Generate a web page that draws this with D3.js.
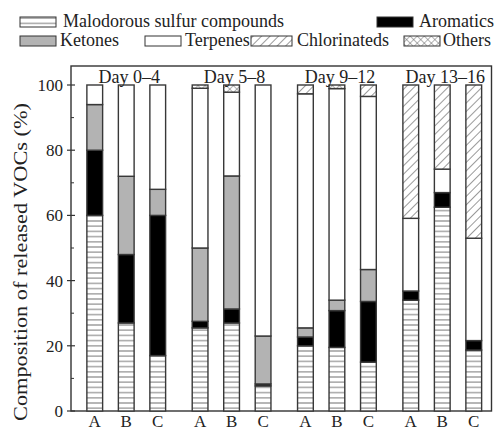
<!DOCTYPE html>
<html>
<head>
<meta charset="utf-8">
<script src="https://cdn.jsdelivr.net/npm/d3@7"></script>
<style>
  body { margin: 0; background: #fff; }
  svg { display: block; }
</style>
</head>
<body>
<svg id="chart"></svg>
<script>
// bars: groups (days) x samples (A, B, C)
var days = ["Day 0\u20134", "Day 5\u20138", "Day 9\u201312", "Day 13\u201316"];
var samples = ["A", "B", "C"];
var yTicks = [0, 20, 40, 60, 80, 100];

// composition (%) per bar, in order A,B,C of each day
var sulfur       = [60, 27, 17, 25.5, 27, 7.7, 20, 19.5, 15, 34, 62.5, 18.7];
var aromatics    = [20, 21, 43, 2, 4.3, 0.6, 2.7, 11.3, 18.6, 2.8, 4.5, 2.9];
var ketones      = [14, 24, 8, 22.5, 40.8, 14.7, 2.8, 3.2, 9.8, 0, 0, 0];
var terpenes     = [6, 28, 32, 49, 25.7, 77, 71.8, 64.9, 53.1, 22.3, 7.2, 31.4];
var chlorinateds = [0, 0, 0, 0, 0, 0, 2.7, 0, 3.5, 40.9, 25.8, 47];
var others       = [0, 0, 0, 1, 2.2, 0, 0, 1.1, 0, 0, 0, 0];

var width = 498, height = 431;
var margin = {top: 66, right: 6, bottom: 20, left: 71};
var serif = "'Liberation Serif'";

var svg = d3.select("#chart")
  .attr("width", width).attr("height", height);

// patterns
var defs = svg.append("defs");
var p1 = defs.append("pattern").attr("id", "hlines").attr("patternUnits", "userSpaceOnUse")
  .attr("width", 8).attr("height", 5.2);
p1.append("rect").attr("width", 8).attr("height", 5.2).attr("fill", "#fff");
p1.append("line").attr("x1", 0).attr("x2", 8).attr("y1", 2.6).attr("y2", 2.6)
  .attr("stroke", "#777").attr("stroke-width", 1);

var p2 = defs.append("pattern").attr("id", "diag").attr("patternUnits", "userSpaceOnUse")
  .attr("width", 6).attr("height", 6).attr("patternTransform", "rotate(45)");
p2.append("rect").attr("width", 6).attr("height", 6).attr("fill", "#fff");
p2.append("line").attr("x1", 0).attr("x2", 0).attr("y1", 0).attr("y2", 6)
  .attr("stroke", "#555").attr("stroke-width", 1.2);

var p3 = defs.append("pattern").attr("id", "cross").attr("patternUnits", "userSpaceOnUse")
  .attr("width", 5).attr("height", 5).attr("patternTransform", "rotate(45)");
p3.append("rect").attr("width", 5).attr("height", 5).attr("fill", "#fff");
p3.append("line").attr("x1", 0).attr("x2", 0).attr("y1", 0).attr("y2", 5).attr("stroke", "#666").attr("stroke-width", 1);
p3.append("line").attr("x1", 0).attr("x2", 5).attr("y1", 0).attr("y2", 0).attr("stroke", "#666").attr("stroke-width", 1);

var series = [
  {key: "sulfur", name: "Malodorous sulfur compounds", values: sulfur, fill: "url(#hlines)"},
  {key: "aromatics", name: "Aromatics", values: aromatics, fill: "#000"},
  {key: "ketones", name: "Ketones", values: ketones, fill: "#b3b3b3"},
  {key: "terpenes", name: "Terpenes", values: terpenes, fill: "#fff"},
  {key: "chlorinateds", name: "Chlorinateds", values: chlorinateds, fill: "url(#diag)"},
  {key: "others", name: "Others", values: others, fill: "url(#cross)"}
];

var rows = [];
days.forEach(function(day, g) {
  samples.forEach(function(s, i) {
    var row = {day: day, sample: s};
    series.forEach(function(se) { row[se.key] = se.values[g * 3 + i]; });
    rows.push(row);
  });
});

var stacked = d3.stack().keys(series.map(function(d) { return d.key; }))(rows);

var x0 = d3.scaleBand()
  .domain(days)
  .range([79, 489.5])
  .paddingInner(0.103)
  .paddingOuter(0);

var x1 = d3.scaleBand()
  .domain(samples)
  .range([0, x0.bandwidth()])
  .paddingInner(0.5)
  .paddingOuter(0.25);

var y = d3.scaleLinear()
  .domain([0, 100])
  .range([411, 85]);

// frame
svg.append("rect")
   .attr("x", margin.left).attr("y", margin.top)
   .attr("width", width - margin.right - margin.left - 0.5)
   .attr("height", y(0) - margin.top)
   .attr("fill", "none").attr("stroke", "#333").attr("stroke-width", 1.4);

// stacked bars
svg.append("g").selectAll("g")
   .data(stacked)
   .enter().append("g")
   .attr("fill", function(d, i) { return series[i].fill; })
   .selectAll("rect")
   .data(function(d) { return d.filter(function(p) { return p[1] - p[0] > 0; }); })
   .enter().append("rect")
   .attr("x", function(d) { return x0(d.data.day) + x1(d.data.sample); })
   .attr("y", function(d) { return y(d[1]); })
   .attr("width", x1.bandwidth())
   .attr("height", function(d) { return y(d[0]) - y(d[1]); })
   .attr("stroke", "#383838")
   .attr("stroke-width", 1.4);

// y axis ticks
var yAxis = svg.append("g").attr("class", "y-axis");
yAxis.selectAll(".major")
     .data(yTicks)
     .enter().append("line")
     .attr("x1", margin.left - 4).attr("x2", margin.left + 4)
     .attr("y1", function(d) { return y(d); }).attr("y2", function(d) { return y(d); })
     .attr("stroke", "#333").attr("stroke-width", 1.2);
yAxis.selectAll(".minor")
     .data(d3.range(10, 100, 20))
     .enter().append("line")
     .attr("x1", margin.left).attr("x2", margin.left + 3)
     .attr("y1", function(d) { return y(d); }).attr("y2", function(d) { return y(d); })
     .attr("stroke", "#333").attr("stroke-width", 1);
yAxis.selectAll("text")
     .data(yTicks)
     .enter().append("text")
     .attr("x", 63)
     .attr("y", function(d) { return y(d); })
     .attr("dy", "0.35em")
     .attr("text-anchor", "end")
     .attr("fill", "#222")
     .style("font-family", serif)
     .style("font-size", "17px")
     .text(function(d) { return d; });

svg.append("text")
   .attr("transform", "translate(27,262) rotate(-90)")
   .attr("text-anchor", "middle")
   .attr("textLength", 318)
   .attr("lengthAdjust", "spacingAndGlyphs")
   .attr("fill", "#222")
   .style("font-family", serif)
   .style("font-size", "18px")
   .text("Composition of released VOCs (%)");

// x labels
svg.append("g").selectAll("text")
   .data(rows)
   .enter().append("text")
   .attr("x", function(d) { return x0(d.day) + x1(d.sample) + x1.bandwidth() / 2; })
   .attr("y", 427)
   .attr("text-anchor", "middle")
   .attr("fill", "#222")
   .style("font-family", serif)
   .style("font-size", "17px")
   .text(function(d) { return d.sample; });

// day labels
svg.append("g").selectAll("text")
   .data(days)
   .enter().append("text")
   .attr("x", function(d) { return x0(d) + x1("B") + x1.bandwidth() / 2 + 3; })
   .attr("y", 83)
   .attr("text-anchor", "middle")
   .attr("fill", "#222")
   .style("font-family", serif)
   .style("font-size", "18px")
   .text(function(d) { return d; });

// legend
var legendItems = [
  {s: 0, x: 20, y: 17, tx: 63},
  {s: 1, x: 377, y: 17, tx: 419},
  {s: 2, x: 20, y: 36, tx: 60},
  {s: 3, x: 145, y: 36, tx: 185},
  {s: 4, x: 251, y: 36, tx: 297},
  {s: 5, x: 404, y: 36, tx: 443}
];
var legend = svg.append("g").attr("class", "legend");
legendItems.forEach(function(it) {
  var se = series[it.s];
  var w = it.s === 4 ? 41 : 36;
  legend.append("rect")
        .attr("x", it.x).attr("y", it.y)
        .attr("width", w).attr("height", 10)
        .attr("fill", se.fill)
        .attr("stroke", "#333").attr("stroke-width", 1);
  legend.append("text")
        .attr("x", it.tx).attr("y", it.y + 10)
        .attr("fill", "#222")
        .style("font-family", serif)
        .style("font-size", "18px")
        .text(se.name);
});
</script>
</body>
</html>
